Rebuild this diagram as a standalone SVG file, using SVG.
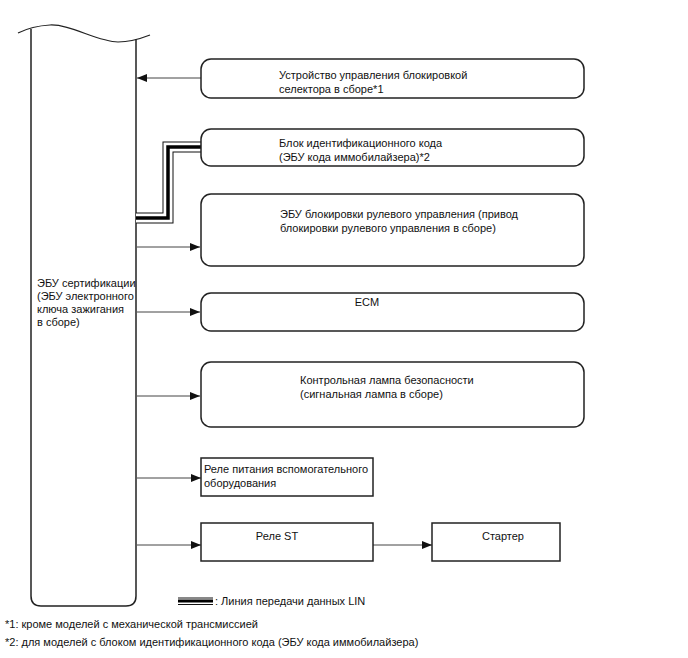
<svg xmlns="http://www.w3.org/2000/svg" width="688" height="658" viewBox="0 0 688 658">
<defs>
<marker id="ah" markerWidth="10" markerHeight="8" refX="10" refY="4" orient="auto" markerUnits="userSpaceOnUse">
<path d="M0,0 L10,4 L0,8 Z" fill="#111"/>
</marker>
<style>
text{font-family:"Liberation Sans",Arial,sans-serif;font-size:11px;fill:#111}
.box{fill:#fff;stroke:#222;stroke-width:1.5}
.ar{fill:none;stroke:#444;stroke-width:1;marker-end:url(#ah)}
</style>
</defs>
<rect width="688" height="658" fill="#fff"/>
<g id="ecu">
<path d="M31,29 V596 Q31,606 41,606 H126 Q136,606 136,596 V39" fill="none" stroke="#222" stroke-width="1.5"/>
<path d="M18,33 Q32,26 50,25 C70,24 98,42 118,42 Q132,42 150,35" fill="none" stroke="#222" stroke-width="1.2"/>
<text x="37" y="287">ЭБУ сертификации</text>
<text x="37" y="300">(ЭБУ электронного</text>
<text x="37" y="313">ключа зажигания</text>
<text x="37" y="326">в сборе)</text>
</g>
<g id="connectors">
<line class="ar" x1="201" y1="78" x2="137" y2="78"/>
<path d="M136,218 H168 V147 H201" fill="none" stroke="#111" stroke-width="11"/>
<path d="M136,218 H168 V147 H201" fill="none" stroke="#fff" stroke-width="9"/>
<path d="M136,218 H168 V147 H201" fill="none" stroke="#000" stroke-width="3.5"/>
<line class="ar" x1="137" y1="247" x2="200" y2="247"/>
<line class="ar" x1="137" y1="312" x2="200" y2="312"/>
<line class="ar" x1="137" y1="396" x2="200" y2="396"/>
<line class="ar" x1="137" y1="478" x2="201" y2="478"/>
<line class="ar" x1="137" y1="545" x2="201" y2="545"/>
<line class="ar" x1="373" y1="545" x2="432" y2="545"/>
</g>
<g id="n1">
<rect class="box" x="201" y="59" width="383" height="39" rx="10"/>
<text x="279" y="79">Устройство управления блокировкой</text>
<text x="279" y="93">селектора в сборе*1</text>
</g>
<g id="n2">
<rect class="box" x="201" y="129" width="383" height="37" rx="10"/>
<text x="279" y="147">Блок идентификационного кода</text>
<text x="279" y="161">(ЭБУ кода иммобилайзера)*2</text>
</g>
<g id="n3">
<rect class="box" x="201" y="194" width="383" height="72" rx="10"/>
<text x="280" y="218">ЭБУ блокировки рулевого управления (привод</text>
<text x="280" y="232">блокировки рулевого управления в сборе)</text>
</g>
<g id="n4">
<rect class="box" x="201" y="293" width="383" height="38" rx="10"/>
<text x="367" y="306" text-anchor="middle">ECM</text>
</g>
<g id="n5">
<rect class="box" x="201" y="362" width="383" height="65" rx="10"/>
<text x="300" y="384">Контрольная лампа безопасности</text>
<text x="300" y="398">(сигнальная лампа в сборе)</text>
</g>
<g id="n6">
<rect class="box" x="201" y="458" width="172" height="38"/>
<text x="204" y="473">Реле питания вспомогательного</text>
<text x="204" y="487">оборудования</text>
</g>
<g id="n7">
<rect class="box" x="201" y="523" width="172" height="38"/>
<text x="277" y="540" text-anchor="middle">Реле ST</text>
</g>
<g id="n8">
<rect class="box" x="432" y="523" width="128" height="38"/>
<text x="503" y="540" text-anchor="middle">Стартер</text>
</g>
<g id="legend">
<line x1="178" y1="598" x2="213" y2="598" stroke="#111" stroke-width="1"/>
<line x1="178" y1="601" x2="213" y2="601" stroke="#000" stroke-width="3"/>
<line x1="178" y1="604.5" x2="213" y2="604.5" stroke="#111" stroke-width="1"/>
<text x="215" y="605">: Линия передачи данных LIN</text>
<text x="5" y="628">*1: кроме моделей с механической трансмиссией</text>
<text x="5" y="646">*2: для моделей с блоком идентификационного кода (ЭБУ кода иммобилайзера)</text>
</g>
</svg>
